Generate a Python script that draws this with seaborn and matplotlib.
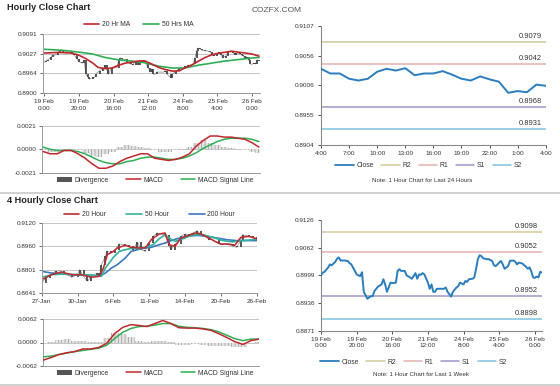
import numpy as np
import matplotlib
matplotlib.use('Agg')
import matplotlib.pyplot as plt
from matplotlib.lines import Line2D
from matplotlib.patches import Patch
import seaborn as sns

sns.set_theme(style='white')
plt.rcParams['font.family'] = ['Liberation Sans', 'DejaVu Sans']
plt.rcParams['hatch.linewidth'] = 0.5

# ============================================================
# data
# ============================================================
# hourly close, last week (hour index from 19 Feb 0:00)
wk_hours = [0, 1, 2, 4, 5, 6, 8, 9, 10, 11,
            13, 15, 16, 17, 19, 20, 21, 22, 23, 24,
            25, 26, 28, 29, 30, 32, 34, 35, 36, 37,
            39, 40, 42, 43, 44, 45, 47, 48, 50, 51,
            53, 54, 55, 56, 57, 58, 60, 61, 62, 63,
            64, 65, 67, 69, 70, 71, 73, 74, 76, 77,
            78, 80, 81, 82, 83, 85, 86, 87, 88, 89,
            90, 91, 93, 94, 96, 97, 98, 100, 101, 102,
            103, 105, 106, 108, 109, 110, 111, 113, 114, 115,
            116, 117, 118, 119, 120, 121, 122, 123, 124]
wk_close = [0.8999, 0.9005, 0.9007, 0.9017, 0.9024, 0.9022, 0.9030, 0.9037, 0.9040, 0.9033,
            0.9033, 0.9032, 0.9027, 0.9024, 0.9009, 0.9001, 0.8999, 0.8997, 0.9006, 0.8961,
            0.8953, 0.8945, 0.8951, 0.8951, 0.8963, 0.8973, 0.8978, 0.8990, 0.8978, 0.8961,
            0.8982, 0.8981, 0.8982, 0.9009, 0.9013, 0.9009, 0.9009, 0.8999, 0.8994, 0.8991,
            0.9004, 0.8991, 0.9001, 0.9000, 0.9004, 0.9001, 0.8982, 0.8968, 0.8978, 0.8961,
            0.8961, 0.8968, 0.8968, 0.8968, 0.8971, 0.8961, 0.8950, 0.8961, 0.8971, 0.8974,
            0.8982, 0.8978, 0.8986, 0.8984, 0.8990, 0.8991, 0.8994, 0.9013, 0.9036, 0.9045,
            0.9043, 0.9038, 0.9036, 0.9036, 0.9032, 0.9022, 0.9020, 0.9028, 0.9032, 0.9024,
            0.9014, 0.9020, 0.9032, 0.9033, 0.9030, 0.9024, 0.9028, 0.9026, 0.9022, 0.9019,
            0.9014, 0.9017, 0.9008, 0.8994, 0.8993, 0.8996, 0.8994, 0.9007, 0.9005]
wk_ticklabels = ['19 Feb\n0:00', '19 Feb\n20:00', '20 Feb\n16:00', '21 Feb\n12:00',
                 '24 Feb\n8:00', '25 Feb\n4:00', '26 Feb\n0:00']

ma20_h_x = [0, 8, 16, 20, 24, 28, 31, 35, 39, 43, 47, 51, 55, 58, 62, 66,
            70, 74, 78, 81, 85, 89, 93, 97, 101, 105, 108, 112, 116, 120, 124]
ma20_h = [0.9029, 0.9031, 0.9029, 0.9022, 0.9011, 0.8997, 0.8983, 0.8979, 0.8981, 0.8990,
          0.8997, 0.9000, 0.9004, 0.9004, 0.8994, 0.8983, 0.8976, 0.8971, 0.8972, 0.8981,
          0.8990, 0.9003, 0.9015, 0.9024, 0.9029, 0.9032, 0.9035, 0.9032, 0.9029, 0.9026, 0.9019]
ma50_h_x = [0, 4, 12, 20, 28, 35, 43, 51, 58, 66, 74, 81, 89, 97, 104, 112, 120, 124]
ma50_h = [0.9041, 0.9040, 0.9037, 0.9032, 0.9026, 0.9015, 0.9007, 0.9003, 0.8998,
          0.8987, 0.8981, 0.8981, 0.8990, 0.8997, 0.9003, 0.9008, 0.9013, 0.9015]

macd_h_x = list(range(0, 125, 4))
macd_h = [-0.0002, -0.0004, -0.0004, -0.0001, -0.0001, -0.0004, -0.0008, -0.0013,
          -0.0017, -0.0017, -0.0015, -0.0011, -0.0008, -0.0006, -0.0004, -0.0004,
          -0.0008, -0.0009, -0.0010, -0.0009, -0.0007, -0.0004, 0.0003, 0.0008,
          0.0012, 0.0012, 0.0011, 0.0011, 0.0010, 0.0009, 0.0006, 0.0002]
signal_h = [0.0002, 0.0000, -0.0001, -0.0001, -0.0001, -0.0002, -0.0004, -0.0007,
            -0.0010, -0.0012, -0.0013, -0.0013, -0.0011, -0.0010, -0.0008, -0.0007,
            -0.0007, -0.0008, -0.0009, -0.0009, -0.0008, -0.0006, -0.0003, 0.0001,
            0.0004, 0.0007, 0.0009, 0.0010, 0.0010, 0.0010, 0.0009, 0.0007]
diverg_h = [-0.0001, -0.0002, -0.0002, 0.0000, 0.0000, -0.0001, -0.0003, -0.0006,
            -0.0007, -0.0004, -0.0002, 0.0002, 0.0004, 0.0003, 0.0002, 0.0001,
            -0.0001, -0.0002, -0.0002, -0.0001, 0.0000, 0.0002, 0.0006, 0.0008,
            0.0006, 0.0004, 0.0002, 0.0001, 0.0000, -0.0001, -0.0002, -0.0003]

# 4 hourly close (bar index from 27 Jan)
h4_x = [0, 2, 4, 7, 9, 11, 13, 15, 18, 19, 21, 23, 25, 28, 29, 30, 32, 33, 35, 37,
        39, 42, 44, 46, 48, 50, 52, 54, 56, 58, 60, 62, 64, 65, 67, 70, 72, 74, 76, 78,
        80, 82, 84, 86, 89, 91, 93, 96, 98, 100, 101, 104, 106, 108]
h4_close = [0.8711, 0.8745, 0.8764, 0.8791, 0.8795, 0.8779, 0.8768, 0.8750, 0.8768, 0.8802,
            0.8757, 0.8723, 0.8757, 0.8779, 0.8757, 0.8836, 0.8893, 0.8927, 0.8916, 0.8938,
            0.8977, 0.8972, 0.8961, 0.8938, 0.8991, 0.8938, 0.8927, 0.8984, 0.9029, 0.9052,
            0.9045, 0.9040, 0.8961, 0.8938, 0.8977, 0.9029, 0.9045, 0.9040, 0.9052, 0.9068,
            0.9040, 0.9029, 0.9006, 0.9006, 0.8977, 0.8972, 0.8977, 0.8961, 0.8954, 0.9006,
            0.9040, 0.9029, 0.9022, 0.9000]
h4_ticklabels = ['27-Jan', '30-Jan', '6-Feb', '11-Feb', '14-Feb', '20-Feb', '26-Feb']

ma20_4h_x = [0, 5, 10, 15, 20, 25, 29, 31, 33, 36, 38, 42, 45, 49, 52, 55,
             59, 62, 64, 67, 70, 74, 77, 80, 84, 87, 90, 94, 97, 100, 104, 108]
ma20_4h = [0.8734, 0.8768, 0.8786, 0.8768, 0.8768, 0.8750, 0.8757, 0.8813, 0.8904, 0.8927,
           0.8950, 0.8968, 0.8954, 0.8950, 0.8950, 0.9006, 0.9045, 0.9052, 0.8972, 0.8961,
           0.9018, 0.9036, 0.9052, 0.9045, 0.9018, 0.8995, 0.8977, 0.8977, 0.8968, 0.9022,
           0.9029, 0.9013]
ma50_4h_x = [0, 5, 11, 18, 25, 30, 32, 36, 39, 42, 46, 49, 52, 56, 59, 62, 64, 67,
             71, 76, 81, 86, 91, 96, 101, 106, 108]
ma50_4h = [0.8750, 0.8768, 0.8772, 0.8768, 0.8764, 0.8757, 0.8813, 0.8886, 0.8927, 0.8938,
           0.8950, 0.8945, 0.8954, 0.8972, 0.9013, 0.9040, 0.9018, 0.8995, 0.9013, 0.9040,
           0.9040, 0.9022, 0.9000, 0.8991, 0.9000, 0.9006, 0.9013]
ma200_4h_x = [0, 5, 11, 18, 25, 29, 32, 35, 38, 42, 45, 48, 52, 55, 58, 62, 65,
              68, 73, 78, 83, 88, 93, 98, 103, 108]
ma200_4h = [0.8791, 0.8779, 0.8772, 0.8764, 0.8764, 0.8757, 0.8779, 0.8813, 0.8836, 0.8882,
            0.8927, 0.8938, 0.8950, 0.8954, 0.8968, 0.8984, 0.9000, 0.9013, 0.9029, 0.9036,
            0.9029, 0.9018, 0.9006, 0.9000, 0.9000, 0.9000]

macd_4h_x = list(range(0, 109, 4))
macd_4h = [-0.0047, -0.0040, -0.0032, -0.0027, -0.0024, -0.0017, -0.0017, -0.0013,
           -0.0002, 0.0024, 0.0040, 0.0047, 0.0045, 0.0042, 0.0050, 0.0058,
           0.0050, 0.0039, 0.0038, 0.0038, 0.0036, 0.0032, 0.0023, 0.0013,
           0.0002, -0.0005, 0.0005, 0.0009]
signal_4h = [-0.0038, -0.0036, -0.0032, -0.0028, -0.0024, -0.0021, -0.0018, -0.0015,
             -0.0007, 0.0011, 0.0027, 0.0037, 0.0042, 0.0043, 0.0046, 0.0050,
             0.0050, 0.0043, 0.0040, 0.0039, 0.0037, 0.0034, 0.0028, 0.0019,
             0.0010, 0.0005, 0.0009, 0.0009]
diverg_4h = [-0.0005, 0.0002, 0.0007, 0.0008, 0.0004, 0.0003, 0.0002, 0.0001,
             0.0012, 0.0024, 0.0022, 0.0014, 0.0005, 0.0001, 0.0003, 0.0004,
             0.0001, -0.0006, -0.0006, -0.0005, -0.0006, -0.0008, -0.0009, -0.0010,
             -0.0011, -0.0012, -0.0002, 0.0002]

# last 24 hours close (4:00 .. 4:00)
day_x = list(range(25))
day_close = [0.9034, 0.9026, 0.9026, 0.9017, 0.9014, 0.9017, 0.9029, 0.9034, 0.9031,
             0.9035, 0.9023, 0.9026, 0.9026, 0.9030, 0.9024, 0.9017, 0.9014, 0.9021,
             0.9016, 0.9012, 0.8993, 0.8996, 0.8994, 0.9007, 0.9005]
day_ticklabels = ['4:00', '7:00', '10:00', '13:00', '16:00', '19:00', '22:00', '1:00', '4:00']

level_names = ['R2', 'R1', 'S1', 'S2']
day_levels = [0.9079, 0.9042, 0.8968, 0.8931]
wk_levels = [0.9098, 0.9052, 0.8952, 0.8898]

day_yticklabels = ['0.8904', '0.8955', '0.9006', '0.9056', '0.9107']
wk_yticklabels = ['0.8871', '0.8936', '0.8999', '0.9062', '0.9126']

# ============================================================
# style
# ============================================================
RED = '#c0282d'
GREEN = '#2fae55'
TEAL = '#33b39a'
BLUE200 = '#3b78c0'
CLOSE = '#2b7dbd'
LEVEL_COLORS = ['#cfcb98', '#e2b2b0', '#a097c9', '#7cc4dc']
BAR = '#3a3a3a'
TXT = '#333333'
TICK_FS = 4.6
LEG_FS = 4.9

fig = plt.figure(figsize=(5.6, 3.86), dpi=100)
W, H = 560.0, 386.0


def add_axes(x0, y0, x1, y1):
    return fig.add_axes([x0 / W, 1 - y1 / H, (x1 - x0) / W, (y1 - y0) / H])


def left_style(ax, ylo, yhi, n, fmt):
    ticks = np.linspace(ylo, yhi, n)
    ax.set_ylim(ylo, yhi)
    ax.set_yticks(ticks)
    ax.set_yticklabels([fmt.format(t) for t in ticks])
    for t in ticks:
        ax.axhline(t, color='#c4c4c4', lw=0.7, zorder=0)
    for s in ['top', 'right']:
        ax.spines[s].set_visible(False)
    for s in ['left', 'bottom']:
        ax.spines[s].set_color('#9a9a9a')
        ax.spines[s].set_linewidth(0.7)
    ax.tick_params(axis='both', labelsize=TICK_FS, colors=TXT, length=2, width=0.5, pad=2,
                   left=True, bottom=True)
    ax.set_xlabel('')
    ax.set_ylabel('')


def right_style(ax):
    for s in ['top', 'right']:
        ax.spines[s].set_visible(False)
    for s in ['left', 'bottom']:
        ax.spines[s].set_color('#8a8a8a')
        ax.spines[s].set_linewidth(0.8)
    ax.tick_params(axis='both', labelsize=TICK_FS, colors=TXT, length=2.5, width=0.6, pad=2,
                   left=True, bottom=True, direction='out')
    ax.set_xlabel('')
    ax.set_ylabel('')


def price_bars(ax, xs, closes):
    xs = np.array(xs)
    c = np.array(closes)
    lo = np.minimum(c[:-1], c[1:])
    hi = np.maximum(c[:-1], c[1:])
    sns.lineplot(x=xs, y=c, ax=ax, color='#8a8a8a', lw=0.5, legend=False)
    ax.vlines(xs[1:], lo, hi, color=BAR, lw=1.2)


def macd_panel(ax, xs, macd, signal, diverg, lim, width):
    ax.bar(xs, diverg, width=width, facecolor='#e4e4e4', edgecolor='#9a9a9a',
           hatch='|||||', linewidth=0, zorder=1)
    sns.lineplot(x=xs, y=signal, ax=ax, color=GREEN, lw=1.1, legend=False, zorder=3)
    sns.lineplot(x=xs, y=macd, ax=ax, color=RED, lw=1.1, legend=False, zorder=4)
    left_style(ax, -lim, lim, 3, '{:.4f}')
    ax.set_xticks([])
    ax.set_yticklabels([f'{-lim:.4f}', '0.0000', f'{lim:.4f}'])
    handles = [Patch(facecolor='#555555', edgecolor='none'),
               Line2D([], [], color=RED, lw=1.1),
               Line2D([], [], color=GREEN, lw=1.1)]
    return handles


macd_labels = ['Divergence', 'MACD', 'MACD Signal Line']
leg_kw = dict(frameon=False, fontsize=LEG_FS, labelcolor=TXT, handletextpad=0.4)

# ------------------------------------------------------------
# hourly close chart (top left)
# ------------------------------------------------------------
ax1 = add_axes(43, 33.7, 260, 93.3)
price_bars(ax1, wk_hours, wk_close)
sns.lineplot(x=ma50_h_x, y=ma50_h, ax=ax1, color=GREEN, lw=1.2, legend=False)
sns.lineplot(x=ma20_h_x, y=ma20_h, ax=ax1, color=RED, lw=1.2, legend=False)
left_style(ax1, 0.8900, 0.9091, 4, '{:.4f}')
ax1.set_xlim(-0.75, 124.6)
ax1.set_xticks(range(0, 121, 20))
ax1.set_xticklabels(wk_ticklabels, linespacing=1.6)
ax1.legend([Line2D([], [], color=RED, lw=1.2), Line2D([], [], color=GREEN, lw=1.2)],
           ['20 Hr MA', '50 Hrs MA'], loc='center', bbox_to_anchor=(0.44, 1.15), ncol=2,
           handlelength=2.3, columnspacing=1.9, **leg_kw)

ax2 = add_axes(42, 126, 260, 172.7)
h = macd_panel(ax2, macd_h_x, macd_h, signal_h, diverg_h, 0.0021, 4)
ax2.set_xlim(-0.75, 124.6)
ax2.legend(h, macd_labels, loc='center', bbox_to_anchor=(0.52, -0.16), ncol=3,
           handlelength=2.1, columnspacing=2.6, **leg_kw)

# ------------------------------------------------------------
# 4 hourly close chart (bottom left)
# ------------------------------------------------------------
ax3 = add_axes(41.7, 223, 256.7, 293.3)
price_bars(ax3, h4_x, h4_close)
sns.lineplot(x=ma200_4h_x, y=ma200_4h, ax=ax3, color=BLUE200, lw=1.2, legend=False)
sns.lineplot(x=ma50_4h_x, y=ma50_4h, ax=ax3, color=TEAL, lw=1.2, legend=False)
sns.lineplot(x=ma20_4h_x, y=ma20_4h, ax=ax3, color=RED, lw=1.1, legend=False)
left_style(ax3, 0.8641, 0.9120, 4, '{:.4f}')
ax3.set_xlim(0, 108)
ax3.set_xticks(range(0, 109, 18))
ax3.set_xticklabels(h4_ticklabels)
ax3.legend([Line2D([], [], color=RED, lw=1.2), Line2D([], [], color=TEAL, lw=1.2),
            Line2D([], [], color=BLUE200, lw=1.2)],
           ['20 Hour', '50 Hour', '200 Hour'], loc='center', bbox_to_anchor=(0.5, 1.115),
           ncol=3, handlelength=2.3, columnspacing=3.0, **leg_kw)

ax4 = add_axes(42.7, 319, 259, 366)
h = macd_panel(ax4, macd_4h_x, macd_4h, signal_4h, diverg_4h, 0.0062, 4)
ax4.set_xlim(0, 108)
ax4.legend(h, macd_labels, loc='center', bbox_to_anchor=(0.52, -0.15), ncol=3,
           handlelength=2.1, columnspacing=2.6, **leg_kw)


# ------------------------------------------------------------
# right side close + support/resistance charts
# ------------------------------------------------------------
def level_chart(ax, xs, closes, levels, ylo, yhi, ylabels):
    for lv, col in zip(levels, LEVEL_COLORS):
        ax.axhline(lv, color=col, lw=1.1, zorder=1)
        ax.annotate(f'{lv:.4f}', xy=(1, lv), xycoords=('axes fraction', 'data'),
                    xytext=(-3, 1.5), textcoords='offset points', ha='right', va='bottom',
                    fontsize=5.4, color=TXT)
    sns.lineplot(x=xs, y=closes, ax=ax, color=CLOSE, lw=1.4, legend=False, zorder=3)
    ax.set_ylim(ylo, yhi)
    ax.set_yticks(np.linspace(ylo, yhi, 5))
    ax.set_yticklabels(ylabels)
    right_style(ax)
    handles = [Line2D([], [], color=CLOSE, lw=1.3)] + \
              [Line2D([], [], color=c, lw=1.1) for c in LEVEL_COLORS]
    return handles


ax5 = add_axes(321, 26, 545.7, 145)
h = level_chart(ax5, day_x, day_close, day_levels, 0.8904, 0.9107, day_yticklabels)
ax5.set_xlim(0, 24)
ax5.set_xticks(range(0, 25, 3))
ax5.set_xticklabels(day_ticklabels)
ax5.legend(h, ['Close'] + level_names, loc='center', bbox_to_anchor=(0.48, -0.176), ncol=5,
           handlelength=2.7, columnspacing=1.1, **leg_kw)
ax5.text(0.45, -0.295, 'Note: 1 Hour Chart for Last 24 Hours', transform=ax5.transAxes,
         ha='center', va='center', fontsize=4.4, color=TXT)

ax6 = add_axes(321, 220, 542, 331)
h = level_chart(ax6, wk_hours, wk_close, wk_levels, 0.8871, 0.9126, wk_yticklabels)
ax6.set_xlim(0, 124)
ax6.set_xticks(range(0, 121, 20))
ax6.set_xticklabels(wk_ticklabels, linespacing=1.3)
ax6.legend(h, ['Close'] + level_names, loc='center', bbox_to_anchor=(0.42, -0.28), ncol=5,
           handlelength=2.7, columnspacing=1.1, **leg_kw)
ax6.text(0.45, -0.39, 'Note: 1 Hour Chart for Last 1 Week', transform=ax6.transAxes,
         ha='center', va='center', fontsize=4.4, color=TXT)

# ------------------------------------------------------------
# titles and separators
# ------------------------------------------------------------
fig.text(7 / W, 1 - 8 / H, 'Hourly Close Chart', ha='left', va='center',
         fontsize=6.6, fontweight='bold', color='#222222')
fig.text(7 / W, 1 - 201 / H, '4 Hourly Close Chart', ha='left', va='center',
         fontsize=6.6, fontweight='bold', color='#222222')
fig.text(277 / W, 1 - 10 / H, 'COZFX.COM', ha='center', va='center',
         fontsize=6, color='#555555')
for yy in [192.5, 384.5]:
    fig.add_artist(Line2D([0, 1], [1 - yy / H, 1 - yy / H], transform=fig.transFigure,
                          color='#c8c8c8', lw=1.2))

fig.savefig('out.png', dpi=100)
